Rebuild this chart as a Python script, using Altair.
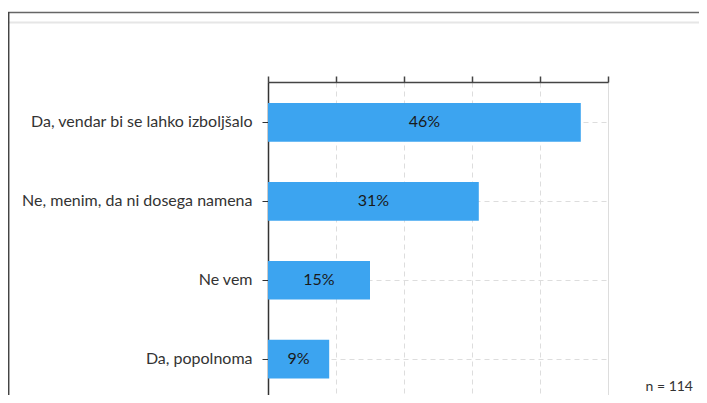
import altair as alt
import pandas as pd

categories = [
    "Da, vendar bi se lahko izboljšalo",
    "Ne, menim, da ni dosega namena",
    "Ne vem",
    "Da, popolnoma",
]
values = [46, 31, 15, 9]
value_labels = ["46%", "31%", "15%", "9%"]
x_ticks = [0, 10, 20, 30, 40, 50]
note_text = "n = 114"

FONT = "Lato"
BAR_COLOR = "#3ca4f0"

df = pd.DataFrame({"cat": categories, "val": values, "lab": value_labels})

W, H = 340, 313

y_enc = alt.Y(
    "cat:N",
    sort=categories,
    scale=alt.Scale(paddingInner=0.51, paddingOuter=0.238, align=0.56),
    axis=alt.Axis(
        title=None,
        labelFont=FONT,
        labelFontSize=16,
        labelColor="#333333",
        labelLimit=400,
        labelPadding=10,
        domainColor="#333333",
        domainWidth=1.5,
        tickColor="#333333",
        tickSize=6,
        grid=True,
        gridColor="#dddddd",
        gridDash=[5, 4],
    ),
)
x_enc = alt.X(
    "val:Q",
    scale=alt.Scale(domain=[0, 50], nice=False, zero=True),
    axis=alt.Axis(
        orient="top",
        values=x_ticks,
        labels=False,
        title=None,
        tickSize=6,
        tickColor="#444444",
        tickWidth=1.5,
        domainColor="#444444",
        domainWidth=1.5,
        grid=True,
        gridColor="#dddddd",
        gridDash=[5, 4],
    ),
)

bars = alt.Chart(df).mark_bar(color=BAR_COLOR).encode(x=x_enc, y=y_enc)

texts = (
    alt.Chart(df)
    .transform_calculate(mid="datum.val / 2")
    .mark_text(font=FONT, fontSize=16, color="#1a1a1a", align="center", baseline="middle")
    .encode(x=alt.X("mid:Q"), y=alt.Y("cat:N", sort=categories), text="lab:N")
)

note = (
    alt.Chart(pd.DataFrame({"t": [note_text]}))
    .mark_text(font=FONT, fontSize=14, color="#333333", align="right", baseline="middle")
    .encode(x=alt.value(425), y=alt.value(305), text="t:N")
)

frame_top = alt.Chart(pd.DataFrame({"a": [0]})).mark_rule(color="#666666", strokeWidth=1.5).encode(
    x=alt.value(-260), x2=alt.value(445), y=alt.value(-69.5)
)
frame_light = alt.Chart(pd.DataFrame({"a": [0]})).mark_rule(color="#e6e6e6", strokeWidth=2).encode(
    x=alt.value(-259), x2=alt.value(445), y=alt.value(-59.5)
)
frame_left = alt.Chart(pd.DataFrame({"a": [0]})).mark_rule(color="#444444", strokeWidth=1.5).encode(
    x=alt.value(-259.3), y=alt.value(-70), y2=alt.value(330)
)

chart = (
    alt.layer(bars, texts, note, frame_top, frame_light, frame_left)
    .properties(
        width=W,
        height=H,
        autosize=alt.AutoSizeParams(type="none"),
        padding={"left": 260, "top": 74, "right": 91, "bottom": 0},
    )
    .configure_view(fill="#f8f8f8", stroke="#dddddd", strokeWidth=1)
    .configure(background="white")
)

chart.save("out.html", embed_options={"renderer": "svg", "actions": False})
